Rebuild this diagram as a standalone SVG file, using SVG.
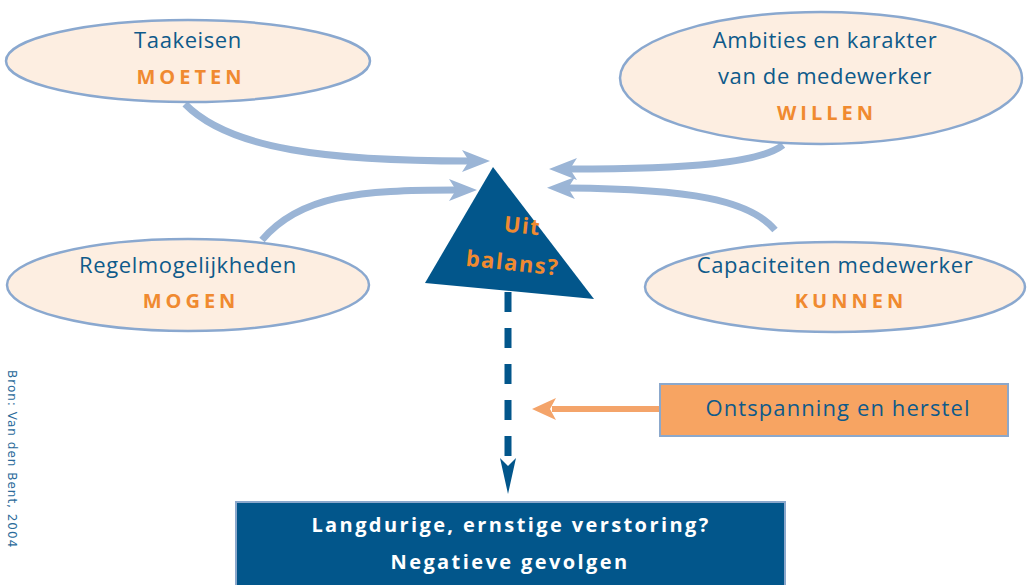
<svg xmlns="http://www.w3.org/2000/svg" width="1028" height="585" viewBox="0 0 1028 585">
<style>
.ell{fill:#fdeee1;stroke:#8aa8cf;stroke-width:2.5}
.t{font-family:"Open Sans","Liberation Sans",sans-serif;font-size:22px;fill:#0e5a8a;text-anchor:middle;letter-spacing:0.6px}
.k{font-family:"Open Sans","Liberation Sans",sans-serif;font-size:20px;font-weight:bold;fill:#f08a30;text-anchor:middle;letter-spacing:4px}
.con{fill:none;stroke:#9bb5d6;stroke-width:7}
.w{font-family:"Open Sans","Liberation Sans",sans-serif;font-size:20px;font-weight:bold;fill:#ffffff;text-anchor:middle;letter-spacing:2.4px}
</style>
<defs>
<marker id="ab" viewBox="0 0 28 22" refX="7" refY="11" markerWidth="28" markerHeight="22" markerUnits="userSpaceOnUse" orient="auto">
<path d="M0,0 L28,11 L0,22 L7,11 Z" fill="#9bb5d6"/>
</marker>
</defs>
<g id="connectors">
<path class="con" d="M185,104 C230,150 330,161 469,161" marker-end="url(#ab)"/>
<path class="con" d="M262,240 C300,195 360,190 456,190" marker-end="url(#ab)"/>
<path class="con" d="M783,145 C760,163 690,169 570,169" marker-end="url(#ab)"/>
<path class="con" d="M775,230 C750,200 690,189 568,188" marker-end="url(#ab)"/>
<path d="M508,292 L508,468" fill="none" stroke="#02568b" stroke-width="7" stroke-dasharray="20,16"/>
<path d="M500,458 L508,494 L516,458 L508,466 Z" fill="#02568b"/>
<path d="M660,409 L552,409" fill="none" stroke="#f4a46a" stroke-width="6"/>
<path d="M532,409 L556,398 L550,409 L556,420 Z" fill="#f4a46a"/>
</g>
<g id="moeten">
<ellipse class="ell" cx="188" cy="61" rx="182" ry="41"/>
<text class="t" x="188" y="48">Taakeisen</text>
<text class="k" x="191" y="84">MOETEN</text>
</g>
<g id="willen">
<ellipse class="ell" cx="821" cy="78" rx="201" ry="66"/>
<text class="t" x="825" y="48">Ambities en karakter</text>
<text class="t" x="825" y="84">van de medewerker</text>
<text class="k" x="827" y="120">WILLEN</text>
</g>
<g id="mogen">
<ellipse class="ell" cx="188" cy="285" rx="181" ry="46"/>
<text class="t" x="188" y="273">Regelmogelijkheden</text>
<text class="k" x="191" y="308">MOGEN</text>
</g>
<g id="kunnen">
<ellipse class="ell" cx="835" cy="287" rx="190" ry="45"/>
<text class="t" x="835" y="273">Capaciteiten medewerker</text>
<text class="k" x="851" y="308">KUNNEN</text>
</g>
<g id="balans">
<polygon points="493,167 425,283 594,299" fill="#02568b"/>
<g transform="rotate(6 517 250)">
<text class="k" x="520" y="233" style="letter-spacing:1.5px;font-size:22px">Uit</text>
<text class="k" x="514" y="271" style="letter-spacing:1.5px;font-size:22px">balans?</text>
</g>
</g>
<g id="herstel">
<rect x="660" y="384" width="348" height="52" fill="#f7a462" stroke="#8ba8cc" stroke-width="2"/>
<text class="t" x="838" y="416" style="letter-spacing:1.1px">Ontspanning en herstel</text>
</g>
<g id="gevolgen">
<rect x="236" y="502" width="549" height="90" fill="#02568b" stroke="#8ba8cc" stroke-width="2"/>
<text class="w" x="511" y="532">Langdurige, ernstige verstoring?</text>
<text class="w" x="510" y="569">Negatieve gevolgen</text>
</g>
<text transform="translate(8,370) rotate(90)" style="font-family:'DejaVu Sans','Liberation Sans',sans-serif;font-size:12px;fill:#2a6a9a;letter-spacing:1px">Bron: Van den Bent, 2004</text>
</svg>
